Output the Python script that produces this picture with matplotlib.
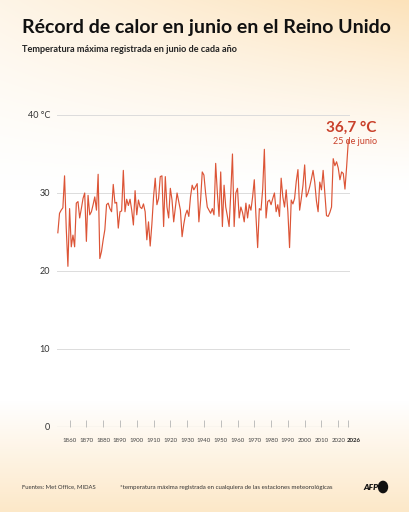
import numpy as np
import matplotlib
matplotlib.use("Agg")
import matplotlib.pyplot as plt
from matplotlib.transforms import ScaledTranslation

plt.rcParams['font.family'] = ['Lato', 'DejaVu Sans']

# maximum June temperature per year (deg C)
years = list(range(1853, 2027))
temps = [
    24.9, 27.4, 27.8, 28.1, 32.2, 25.5, 20.6,                    # 1853-1859
    28.0, 23.1, 24.6, 23.1, 28.7, 28.9, 26.8, 28.0, 29.3, 30.0,  # 1860s
    23.8, 29.7, 27.2, 27.6, 28.5, 29.5, 27.8, 32.4, 21.6, 22.5,  # 1870s
    24.0, 25.3, 28.5, 28.7, 28.0, 27.6, 31.1, 28.7, 28.8, 25.5,  # 1880s
    27.6, 27.7, 32.9, 27.6, 29.2, 28.4, 29.2, 27.8, 25.9, 30.3,  # 1890s
    27.2, 29.1, 28.2, 28.0, 28.6, 27.6, 24.0, 26.3, 23.2, 26.0,  # 1900s
    29.5, 31.9, 28.5, 29.3, 32.1, 32.2, 25.7, 32.1, 28.2, 26.8,  # 1910s
    30.6, 29.1, 26.3, 28.2, 30.0, 28.9, 27.8, 24.4, 26.0, 27.2,  # 1920s
    27.8, 27.0, 29.5, 31.0, 30.4, 30.8, 31.2, 26.3, 29.0, 32.7,  # 1930s
    32.3, 30.0, 28.2, 27.8, 27.4, 28.0, 27.2, 33.8, 30.0, 27.0,  # 1940s
    32.7, 25.7, 31.0, 28.2, 27.0, 25.7, 30.0, 35.0, 25.7, 30.0,  # 1950s
    30.6, 26.8, 28.2, 27.5, 26.3, 28.7, 26.8, 28.5, 27.8, 29.5,  # 1960s
    31.7, 27.0, 23.0, 28.0, 27.8, 30.5, 35.6, 26.8, 28.9, 29.1,  # 1970s
    28.5, 29.3, 30.0, 27.6, 28.5, 27.0, 31.9, 29.5, 28.2, 30.4,  # 1980s
    27.6, 23.0, 29.1, 28.6, 29.3, 31.5, 33.0, 27.8, 29.3, 31.0,  # 1990s
    33.6, 29.5, 30.0, 30.8, 31.8, 32.9, 31.4, 29.0, 27.6, 31.4,  # 2000s
    30.4, 32.9, 30.0, 27.1, 27.0, 27.5, 28.2, 34.4, 33.5, 34.0,  # 2010s
    33.2, 31.7, 32.7, 32.5, 30.5, 33.4, 36.7,                    # 2020-2026
]
tick_years = list(range(1860, 2030, 10)) + [2026]
tick_labels = [str(y) for y in range(1860, 2030, 10)] + ['2026']
y_ticks = [0, 10, 20, 30, 40]
y_labels = ['0', '10', '20', '30', '40 °C']

line_col = '#dc5436'
red = '#c9402a'

W, H = 409, 512
fig = plt.figure(figsize=(W / 100, H / 100), dpi=100)

# soft peach background gradient
bg = fig.add_axes([0, 0, 1, 1], zorder=-10)
yy, xx = np.mgrid[0:H, 0:W]
top = np.clip(1 - yy / 190, 0, 1) ** 1.3 * (0.35 + 0.65 * xx / W)
bottom = np.clip((yy - 400) / 112, 0, 1) * 0.8
a = np.maximum(top, bottom)[..., None]
peach = np.array([252, 226, 186]) / 255
img = (1 - a) * np.ones(3) + a * peach
bg.imshow(img, aspect='auto', extent=[0, 1, 0, 1])
bg.axis('off')

ax = fig.add_axes([57 / W, 1 - 427 / H, 293 / W, 312 / H])
ax.patch.set_alpha(0)
ax.plot(years, temps, color=line_col, lw=0.85, zorder=3)
ax.set_xlim(1852.5, 2027)
ax.set_ylim(0, 40)

for v in y_ticks[1:]:
    ax.axhline(v, color='#dcdcdc', lw=0.7, zorder=1)
ax.axhline(0, color='#b5b5b5', lw=0.8, zorder=2)

for s in ax.spines.values():
    s.set_visible(False)
ax.set_yticks(y_ticks)
ax.set_yticklabels(y_labels, fontsize=6.5, color='#333333')
ax.tick_params(axis='y', length=0, pad=5)
ax.set_xticks(tick_years)
ax.set_xticklabels(tick_labels, fontsize=4.4, color='#444444')
ax.tick_params(axis='x', direction='in', length=5, width=0.6, color='#b5b5b5', pad=8)
last = ax.get_xticklabels()[-1]
last.set_fontweight('bold')
last.set_color('#222222')
last.set_transform(last.get_transform() + ScaledTranslation(5 / 100, 0, fig.dpi_scale_trans))

ax.text(years[-1] + 17, temps[-1] + 1.6, '36,7 °C', ha='right', va='center',
        fontsize=11, fontweight='bold', color=red, clip_on=False)
ax.text(years[-1] + 17, temps[-1] - 0.1, '25 de junio', ha='right', va='center',
        fontsize=6.5, color=red, clip_on=False)

fig.text(22 / W, 1 - 28 / H, 'Récord de calor en junio en el Reino Unido',
         fontsize=14.0, fontweight='bold', color='#111111', va='center')
fig.text(22 / W, 1 - 49 / H, 'Temperatura máxima registrada en junio de cada año',
         fontsize=6.6, fontweight='bold', color='#222222', va='center')

fig.text(22 / W, 1 - 487 / H, 'Fuentes: Met Office, MIDAS',
         fontsize=4.2, color='#333333', va='center')
fig.text(120 / W, 1 - 487 / H,
         '*temperatura máxima registrada en cualquiera de las estaciones meteorológicas',
         fontsize=4.4, color='#333333', va='center')
fig.text(363 / W, 1 - 487 / H, 'AFP', fontsize=6, fontweight='heavy',
         fontstyle='italic', color='#111111', va='center')
fig.patches.append(matplotlib.patches.Circle((383 / W, 1 - 487 / H), 4.5 / W,
                                             transform=fig.transFigure,
                                             color='#111111'))

fig.savefig('out.png', dpi=100)
